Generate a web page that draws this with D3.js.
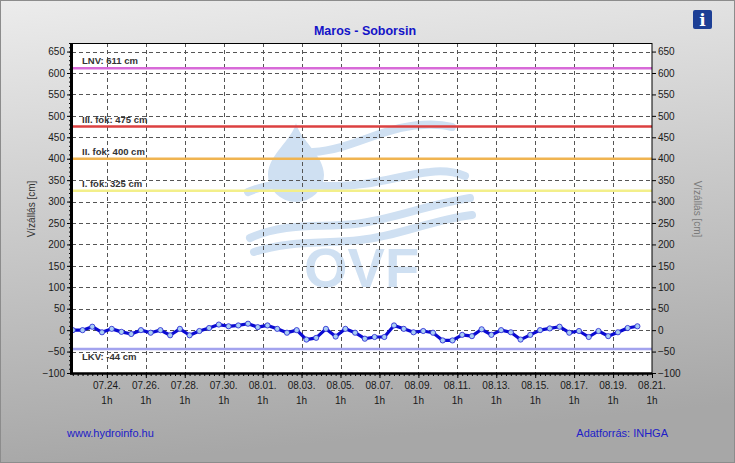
<!DOCTYPE html>
<html>
<head>
<meta charset="utf-8">
<script src="https://cdn.jsdelivr.net/npm/d3@7"></script>
<style>
  body { margin: 0; }
  svg { display: block; font-family: Arial, "Liberation Sans", sans-serif; }
</style>
</head>
<body>
<svg id="chart" width="735" height="463"></svg>
<script>
// vízállás adatok, 12 óránként
var startTime = new Date(2024, 6, 22, 7);
var stepHours = 12;
var levels = [0, 0, 8, -5, 3, -4, -9, 0, -6, 0, -12, 3, -12, -2, 5, 13, 9, 11, 15, 7,
  11, 3, -6, 0, -22, -18, 3, -15, 3, -6, -20, -16, -16, 11, 3, -5, -2, -6, -24, -24,
  -11, -14, 2, -11, 0, -5, -22, -11, 0, 4, 8, -6, -2, -16, -2, -14, -5, 5, 9];

var thresholdNames = ["LNV", "III. fok", "II. fok", "I. fok", "LKV"];
var thresholdValues = [611, 475, 400, 325, -44];
var thresholdColors = ["#d86ad8", "#dc4040", "#f0b450", "#f3ef8a", "#a3a3ee"];

var yTicks = d3.range(-100, 651, 50);
var yMinorTicks = d3.range(-100, 671, 10);
var xStart = new Date(2024, 6, 22, 6);
var xEnd = new Date(2024, 7, 21, 1);
var firstMajor = new Date(2024, 6, 24, 1);

var times = levels.map(function(d, i) { return d3.timeHour.offset(startTime, i * stepHours); });
var majorTicks = d3.range(0, 15).map(function(i) { return d3.timeHour.offset(firstMajor, i * 48); });
var minorTicks = d3.range(0, 120).map(function(i) { return d3.timeHour.offset(new Date(2024, 6, 22, 7), i * 6); })
  .filter(function(t) { return t <= xEnd; });

var margin = {top: 43, right: 83, bottom: 90, left: 72},
  width = 735 - margin.left - margin.right,
  height = 463 - margin.top - margin.bottom;

var svg = d3.select("#chart");

var defs = svg.append("defs");
var grad = defs.append("linearGradient").attr("id", "bg").attr("x1", 0).attr("y1", 0).attr("x2", 0.15).attr("y2", 1);
grad.append("stop").attr("offset", "0%").attr("stop-color", "#ececec");
grad.append("stop").attr("offset", "100%").attr("stop-color", "#a7a7a7");

svg.append("rect").attr("width", 735).attr("height", 463).attr("fill", "url(#bg)");
svg.append("rect").attr("x", 0.5).attr("y", 0.5).attr("width", 734).attr("height", 462)
  .attr("fill", "none").attr("stroke", "#8c8c8c");

// info ikon
var info = svg.append("g").attr("transform", "translate(693,10)");
info.append("rect").attr("width", 19).attr("height", 19).attr("rx", 2).attr("fill", "#1d3f95");
info.append("text").attr("x", 9.5).attr("y", 16).attr("text-anchor", "middle")
  .attr("fill", "#fff").style("font-family", "'DejaVu Serif', serif").style("font-weight", "bold")
  .style("font-size", "17px").text("i");

svg.append("text").attr("x", margin.left + width / 2 + 3).attr("y", 35).attr("text-anchor", "middle")
  .attr("fill", "#1414c8").style("font-weight", "bold").style("font-size", "12.5px").text("Maros - Soborsin");

var x = d3.scaleTime().domain([xStart, xEnd]).range([0, width]);
var y = d3.scaleLinear().domain([-100, 670]).range([height, 0]);

var g = svg.append("g").attr("transform", "translate(" + margin.left + "," + margin.top + ")");

g.append("rect").attr("width", width).attr("height", height).attr("fill", "#fff");

// OVF vízjel
var wm = g.append("g").attr("transform", "translate(" + (-margin.left) + "," + (-margin.top) + ")")
  .attr("fill", "#cfe0f2").attr("stroke", "#cfe0f2");
wm.append("path").attr("stroke", "none")
  .attr("d", "M296,123 C300,140 324,155 324,175 A28,27 0 1 1 268,175 C268,155 292,140 296,123 Z");
var waves = [
  "M313,152 C345,150 370,135 400,128 C420,124 440,124 452,127",
  "M248,192 C275,180 300,186 330,186 C370,187 400,175 430,172 C445,170 455,172 465,176",
  "M250,238 C285,222 320,228 355,224 C395,219 425,205 470,198",
  "M254,252 C290,240 325,244 360,240 C400,236 430,220 472,215"
];
wm.selectAll(".wave").data(waves).enter().append("path")
  .attr("class", "wave").attr("d", function(d) { return d; })
  .attr("fill", "none").attr("stroke-width", 8).attr("stroke-linecap", "round");
wm.append("text").attr("x", 304).attr("y", 287).attr("stroke", "none")
  .style("font-weight", "bold").style("font-size", "56px").text("OVF");

// rácsvonalak
g.selectAll(".hgrid").data(yTicks.filter(function(d) { return d > -100; })).enter().append("line")
  .attr("x1", 0).attr("x2", width)
  .attr("y1", function(d) { return Math.round(y(d)) + 0.5; })
  .attr("y2", function(d) { return Math.round(y(d)) + 0.5; })
  .attr("stroke", "#555").attr("stroke-dasharray", "4,3");
g.selectAll(".vgrid").data(majorTicks.filter(function(t) { return t < xEnd; })).enter().append("line")
  .attr("y1", 0).attr("y2", height)
  .attr("x1", function(d) { return Math.round(x(d)) + 0.5; })
  .attr("x2", function(d) { return Math.round(x(d)) + 0.5; })
  .attr("stroke", "#555").attr("stroke-dasharray", "4,3");

// küszöbértékek
g.selectAll(".thr").data(thresholdValues).enter().append("line")
  .attr("x1", 0).attr("x2", width)
  .attr("y1", function(d) { return y(d); }).attr("y2", function(d) { return y(d); })
  .attr("stroke", function(d, i) { return thresholdColors[i]; }).attr("stroke-width", 2.5);
g.selectAll(".thrlabel").data(thresholdValues).enter().append("text")
  .attr("x", 10)
  .attr("y", function(d) { return d < 0 ? y(d) + 11 : y(d) - 4; })
  .attr("fill", "#333").style("font-size", "9.5px").style("font-weight", "bold")
  .text(function(d, i) { return thresholdNames[i] + ": " + d + " cm"; });

// vízállás görbe
var line = d3.line()
  .x(function(d, i) { return x(times[i]); })
  .y(function(d) { return y(d); });
g.append("path").datum(levels).attr("d", line)
  .attr("fill", "none").attr("stroke", "#0a0ad2").attr("stroke-width", 3.2).attr("stroke-linejoin", "round");
g.selectAll(".pt").data(levels).enter().append("circle")
  .attr("cx", function(d, i) { return x(times[i]); })
  .attr("cy", function(d) { return y(d); })
  .attr("r", 2.6).attr("fill", "#a9cdf4").attr("stroke", "#2020d0").attr("stroke-width", 0.8);

// keret
g.append("rect").attr("x", 0).attr("y", 0.5).attr("width", width).attr("height", height)
  .attr("fill", "none").attr("stroke", "#000").attr("stroke-width", 1);

// tengelyek
var yAxisMinor = g.append("g").call(d3.axisLeft(y).tickValues(yMinorTicks).tickSize(3).tickFormat(""));
var yAxis = g.append("g").call(d3.axisLeft(y).tickValues(yTicks).tickSize(5).tickPadding(2));
var yAxisRight = g.append("g").attr("transform", "translate(" + width + ",0)")
  .call(d3.axisRight(y).tickValues(yTicks).tickSize(4).tickPadding(2));
var xAxisMinor = g.append("g").attr("transform", "translate(0," + height + ")")
  .call(d3.axisBottom(x).tickValues(minorTicks).tickSize(3).tickFormat(""));
var xAxis = g.append("g").attr("transform", "translate(0," + height + ")")
  .call(d3.axisBottom(x).tickValues(majorTicks).tickSize(5).tickFormat(""));

[yAxisMinor, yAxis, yAxisRight, xAxisMinor, xAxis].forEach(function(a) {
  a.select(".domain").remove();
  a.selectAll("line").attr("stroke", "#000");
  a.selectAll("text").attr("fill", "#1a1a1a").style("font-size", "10px").style("font-family", "Arial, 'Liberation Sans', sans-serif");
});
g.append("line").attr("x1", -0.5).attr("x2", -0.5).attr("y1", 0).attr("y2", height + 1.5)
  .attr("stroke", "#000").attr("stroke-width", 3);
g.append("line").attr("x1", -2).attr("x2", width).attr("y1", height + 0.5).attr("y2", height + 0.5)
  .attr("stroke", "#000").attr("stroke-width", 2.5);

var xLabels = g.selectAll(".xlab").data(majorTicks).enter().append("g")
  .attr("transform", function(d) { return "translate(" + x(d) + "," + height + ")"; })
  .attr("fill", "#1a1a1a").style("font-size", "10px").attr("text-anchor", "middle");
xLabels.append("text").attr("y", 16).text(d3.timeFormat("%m.%d."));
xLabels.append("text").attr("y", 31).text(function(d) { return d.getHours() + "h"; });

// tengelycímek
svg.append("text").attr("transform", "translate(35,209) rotate(-90)").attr("text-anchor", "middle")
  .attr("fill", "#333").style("font-size", "10px").text("Vízállás [cm]");
svg.append("text").attr("transform", "translate(694,209) rotate(90)").attr("text-anchor", "middle")
  .attr("fill", "#7a7a7a").style("font-size", "10px").text("Vízállás [cm]");

// lábléc
svg.append("text").attr("x", 67).attr("y", 437).attr("fill", "#2020c8").style("font-size", "11px")
  .text("www.hydroinfo.hu");
svg.append("text").attr("x", 668).attr("y", 437).attr("text-anchor", "end").attr("fill", "#2020c8")
  .style("font-size", "11px").text("Adatforrás: INHGA");
</script>
</body>
</html>
